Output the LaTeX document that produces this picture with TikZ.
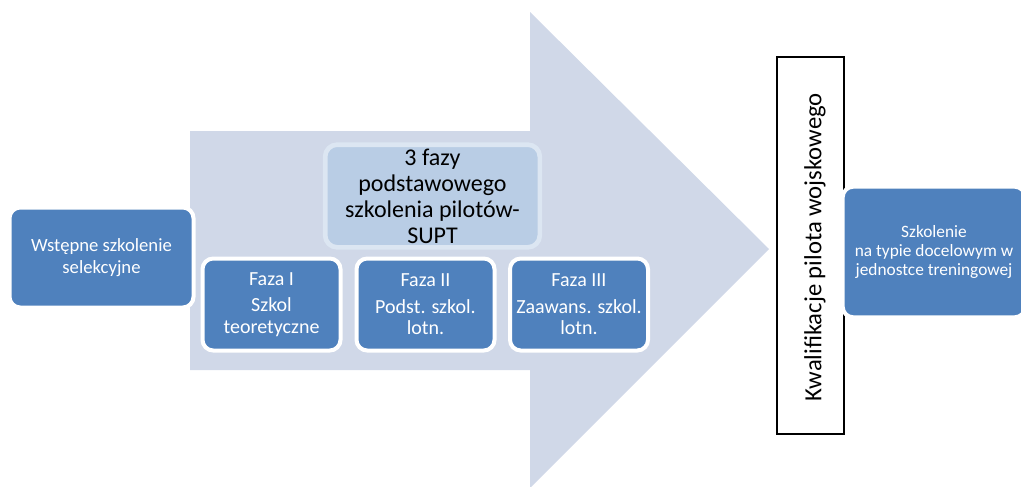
\documentclass[tikz,border=0pt]{standalone}
\usepackage{fontspec}
\setmainfont{Carlito}
\definecolor{arrowfill}{HTML}{D0D8E8}
\definecolor{boxblue}{HTML}{4F81BD}
\definecolor{lightfill}{HTML}{B9CDE5}
\definecolor{lightedge}{HTML}{DCE6F2}
\begin{document}
\begin{tikzpicture}[x=0.75pt,y=-0.75pt,
  bluebox/.style={rectangle, rounded corners=8pt, fill=boxblue, draw=white,
    line width=3pt, text=white, align=center, inner sep=0pt},
  phasebox/.style={bluebox, minimum width=103.5pt, minimum height=69pt,
    font=\fontsize{15}{16}\selectfont},
  topbox/.style={rectangle, rounded corners=9pt, fill=lightfill, draw=lightedge,
    line width=3.5pt, text=black, align=center, inner sep=0pt,
    font=\fontsize{18}{19.5}\selectfont},
  qualbox/.style={rectangle, draw=black, line width=1.1pt, fill=white, inner sep=0pt}]
\useasboundingbox (0,0) rectangle (1021,486);
\clip (0,0) rectangle (1021,486);

% broad background arrow
\fill[arrowfill] (190,131) -- (530,131) -- (530,12) -- (769,249)
  -- (530,488) -- (530,370) -- (190,370) -- cycle;

% initial selection training
\node[bluebox, minimum width=138pt, minimum height=75pt,
  font=\fontsize{14}{17}\selectfont] (sel) at (101.5,257.5)
  {Wstępne szkolenie\\selekcyjne};

% SUPT heading
\node[topbox, minimum width=161pt, minimum height=77pt] (supt) at (432.5,196)
  {3 fazy\\podstawowego\\szkolenia pilotów-\\SUPT};

% three phases
\node[phasebox] (f1) at (271.5,304.5) {Faza I\\[4pt]Szkol\\teoretyczne};
\node[phasebox] (f2) at (425.5,304.5) {Faza II\\[4pt]Podst. szkol.\\lotn.};
\node[phasebox] (f3) at (579,304.5) {Faza III\\[4pt]Zaawans. szkol.\\lotn.};

% qualification bar
\node[qualbox, minimum width=50pt, minimum height=283pt] (qual) at (810.5,245.5) {};
\node[rotate=90, font=\fontsize{18.5}{22}\selectfont] (qualtext) at (815,247)
  {Kwalifikacje pilota wojskowego};

% type training in the unit
\node[bluebox, minimum width=137pt, minimum height=98pt,
  font=\fontsize{13}{14}\selectfont] (unit) at (934,252)
  {Szkolenie\\na typie docelowym w\\jednostce treningowej};
\end{tikzpicture}
\end{document}
